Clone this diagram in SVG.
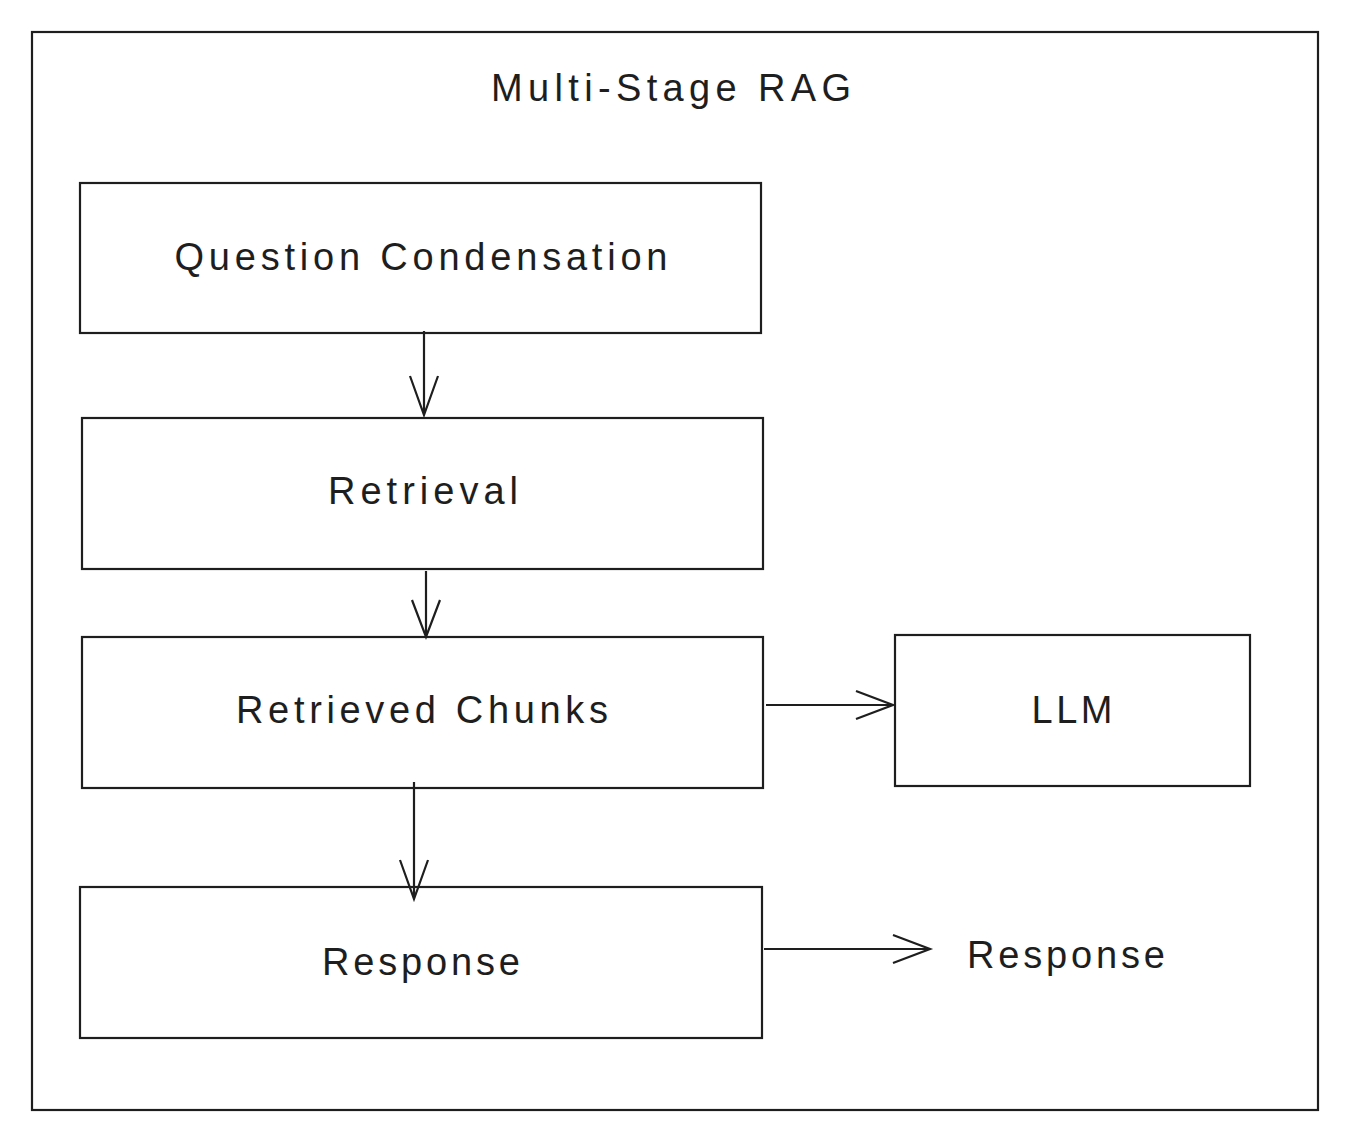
<svg xmlns="http://www.w3.org/2000/svg" width="1356" height="1148" viewBox="0 0 1356 1148">
<style>
.box{fill:#fff;stroke:#1e1e1e;stroke-width:2.2}
.t{font-family:"Liberation Sans",sans-serif;font-size:38px;fill:#1e1e1e;text-anchor:middle;dominant-baseline:central}
.c{stroke:#1e1e1e;stroke-width:2.2;fill:none}
</style>
<rect width="1356" height="1148" fill="#fff"/>
<g id="frame"><rect class="box" x="32" y="32" width="1286" height="1078"/><text class="t" x="671" y="88" textLength="360" lengthAdjust="spacing">Multi-Stage RAG</text></g>
<g id="qc"><rect class="box" x="80" y="183" width="681" height="150"/><text class="t" x="421" y="257" textLength="493" lengthAdjust="spacing">Question Condensation</text></g>
<g id="ret"><rect class="box" x="82" y="418" width="681" height="151"/><text class="t" x="423" y="491" textLength="190" lengthAdjust="spacing">Retrieval</text></g>
<g id="rc"><rect class="box" x="82" y="637" width="681" height="151"/><text class="t" x="422" y="710" textLength="372" lengthAdjust="spacing">Retrieved Chunks</text></g>
<g id="llm"><rect class="box" x="895" y="635" width="355" height="151"/><text class="t" x="1072" y="710" textLength="81" lengthAdjust="spacing">LLM</text></g>
<g id="resp"><rect class="box" x="80" y="887" width="682" height="151"/><text class="t" x="421" y="962" textLength="198" lengthAdjust="spacing">Response</text></g>
<g id="resp2"><text class="t" x="1066" y="955" textLength="198" lengthAdjust="spacing">Response</text></g>
<g id="connectors">
<path class="c" d="M424 331V415M410 376L424 415L438 376"/>
<path class="c" d="M426 571V637M412 600L426 637L440 600"/>
<path class="c" d="M766 705H893M856 691L893 705L856 719"/>
<path class="c" d="M414 782V899M400 860L414 899L428 860"/>
<path class="c" d="M764 949H930M893 935L930 949L893 963"/>
</g>
</svg>
